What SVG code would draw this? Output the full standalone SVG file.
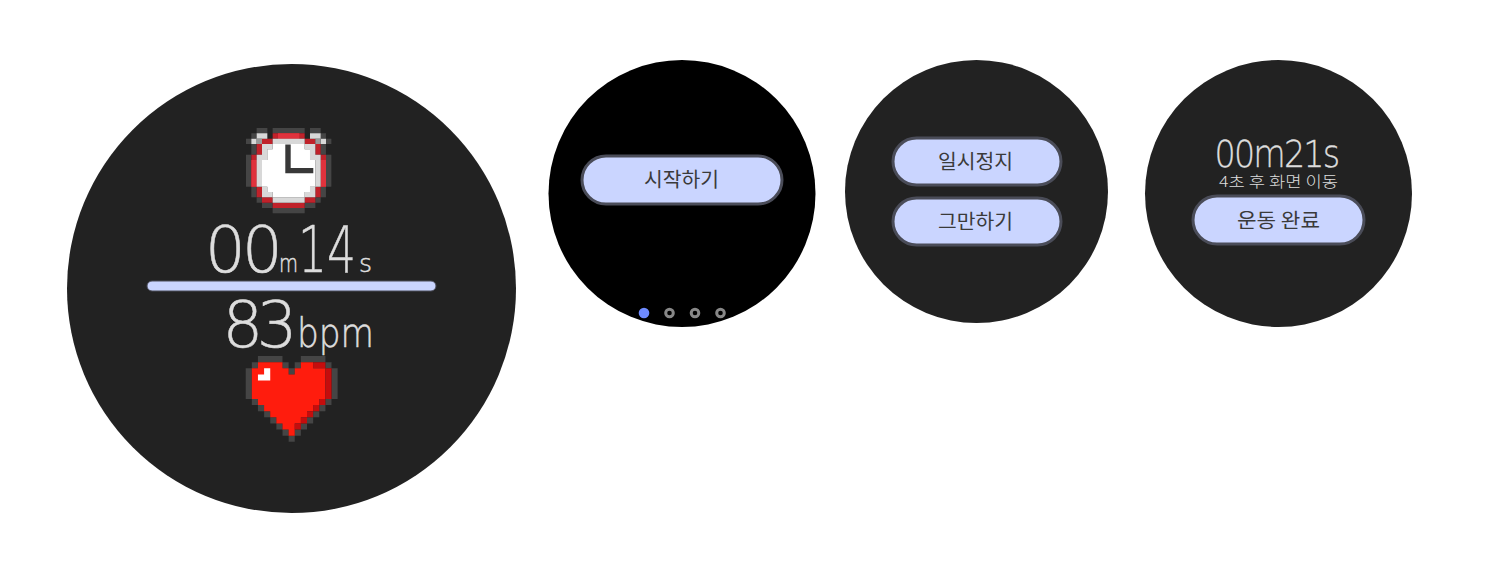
<svg xmlns="http://www.w3.org/2000/svg" width="1494" height="563" viewBox="0 0 1494 563">
<style>
.face{fill:#222}
.btn{fill:#cad5ff;stroke:#4a4c58;stroke-width:3}
.bt{font-family:"Noto Sans CJK KR","Noto Sans",sans-serif;font-size:20px;fill:#3a3a3a}
.num{font-family:"DejaVu Sans ExtraLight","DejaVu Sans",sans-serif;font-weight:200;fill:#ddd;stroke:#ddd;stroke-width:.5}
.ko{font-family:"Noto Sans CJK KR",sans-serif;font-size:15px;font-weight:200;fill:#ddd}
.ring{fill:none;stroke:#888;stroke-width:3}
</style>
<defs><filter id="soft"><feGaussianBlur stdDeviation="0.07"/></filter></defs>
<rect width="1494" height="563" fill="#fff"/>
<g id="screen-workout">
<circle class="face" cx="291.5" cy="288.5" r="224.5"/>
<g id="clock-icon" transform="translate(246 128) scale(5.333)" filter="url(#soft)">
<path fill="#444" d="M2 0h2v1h-2zM5 0h6v1h-6zM12 0h2v1h-2zM1 1h1v1h-1zM14 1h1v1h-1zM0 2h1v1h-1zM15 2h1v1h-1zM1 3h1v2h-1zM14 3h1v2h-1zM0 5h1v6h-1zM15 5h1v6h-1zM1 11h1v2h-1zM14 11h1v2h-1zM2 13h1v1h-1zM13 13h1v1h-1zM3 14h2v1h-2zM11 14h2v1h-2zM5 15h6v1h-6z"/>
<path fill="#c0202a" d="M5 1h6v1h-6zM3 2h2v1h-2zM11 2h2v1h-2zM2 3h1v2h-1zM13 3h1v2h-1zM1 5h1v6h-1zM14 5h1v6h-1zM2 11h1v2h-1zM13 11h1v2h-1zM3 13h2v1h-2zM11 13h2v1h-2zM5 14h6v1h-6z"/>
<path fill="#e0323c" d="M6 1h4v1h-4zM1 6h1v5h-1zM14 6h1v5h-1z"/>
<path fill="#d8d8d8" d="M5 2h6v1h-6zM3 3h2v1h-2zM11 3h2v1h-2zM3 4h1v1h-1zM12 4h1v1h-1zM2 5h2v1h-2zM12 5h2v1h-2zM2 6h1v5h-1zM13 6h1v5h-1zM3 11h1v1h-1zM12 11h1v1h-1zM3 12h2v1h-2zM11 12h2v1h-2zM5 13h6v1h-6zM2 1h2v1h-2zM12 1h2v1h-2zM1 2h1v1h-1zM14 2h1v1h-1z"/>
<path fill="#999" d="M2 2h1v1h-1zM13 2h1v1h-1z"/>
<path fill="#fff" d="M5 3h6v1h-6zM4 4h8v2h-8zM3 6h10v5h-10zM4 11h8v1h-8zM5 12h6v1h-6z"/>
</g>
<path fill="#383838" d="M285.3 144.5h5.4v23.5h22.6v5.3h-28z"/>
<text class="num" x="205" y="271.7" font-size="64" letter-spacing="-3.7">00</text>
<text class="num" x="279" y="272" font-size="24" textLength="19" lengthAdjust="spacingAndGlyphs">m</text>
<text class="num" x="298" y="271.7" font-size="64" textLength="58" lengthAdjust="spacingAndGlyphs">14</text>
<text class="num" x="359" y="272" font-size="24" textLength="13" lengthAdjust="spacingAndGlyphs">s</text>
<rect x="147" y="281" width="289" height="10" rx="5" fill="#cad5ff" stroke="#4a4c58" stroke-width="1"/>
<text class="num" x="222.5" y="346.5" font-size="64" letter-spacing="-6.5">83</text>
<text class="num" x="297" y="347" font-size="40" textLength="77" lengthAdjust="spacingAndGlyphs">bpm</text>
<g id="heart-icon" transform="translate(245.7 356) scale(6.13)" filter="url(#soft)">
<path fill="#444" d="M2 0h4v1h-4zM9 0h4v1h-4zM1 1h1v1h-1zM6 1h1v1h-1zM8 1h1v1h-1zM13 1h1v1h-1zM0 2h1v5h-1zM7 2h1v1h-1zM14 2h1v5h-1zM1 7h1v1h-1zM13 7h1v1h-1zM2 8h1v1h-1zM12 8h1v1h-1zM3 9h1v1h-1zM11 9h1v1h-1zM4 10h1v1h-1zM10 10h1v1h-1zM5 11h1v1h-1zM9 11h1v1h-1zM6 12h1v1h-1zM8 12h1v1h-1zM7 13h1v1h-1z"/>
<path fill="#ff1f10" d="M2 1h4v1h-4zM9 1h2v1h-2zM1 2h6v1h-6zM8 2h5v1h-5zM1 3h12v4h-12zM2 7h10v1h-10zM3 8h8v1h-8zM4 9h6v1h-6zM5 10h4v1h-4zM6 11h2v1h-2zM7 12h1v1h-1z"/>
<path fill="#c40f0a" d="M11 1h2v1h-2zM13 2h1v5h-1zM12 7h1v1h-1zM11 8h1v1h-1zM10 9h1v1h-1zM9 10h1v1h-1zM8 11h1v1h-1z"/>
<path fill="#fff" d="M3 2h1v1h-1zM2 3h2v1h-2z"/>
</g>
</g>
<g id="screen-start">
<circle fill="#000" cx="682" cy="193.5" r="133.5"/>
<rect class="btn" x="582" y="156" width="200" height="48" rx="24"/>
<text class="bt" x="644" y="187" textLength="75" lengthAdjust="spacingAndGlyphs">시작하기</text>
<circle cx="644" cy="313" r="5.3" fill="#6f8bff"/>
<circle class="ring" cx="669.5" cy="313" r="3.8"/>
<circle class="ring" cx="695" cy="313" r="3.8"/>
<circle class="ring" cx="720.5" cy="313" r="3.8"/>
</g>
<g id="screen-pause">
<circle class="face" cx="976.5" cy="191.5" r="131.5"/>
<rect class="btn" x="893" y="138" width="168" height="47" rx="23.5"/>
<text class="bt" x="938" y="169" textLength="75" lengthAdjust="spacingAndGlyphs">일시정지</text>
<rect class="btn" x="893" y="198" width="168" height="47" rx="23.5"/>
<text class="bt" x="938" y="229" textLength="75" lengthAdjust="spacingAndGlyphs">그만하기</text>
</g>
<g id="screen-done">
<circle class="face" cx="1278.5" cy="193.5" r="133.5"/>
<text class="num" transform="translate(1214.5 167) scale(.9 1)" font-size="37" letter-spacing="-2" style="stroke-width:.3">00m21s</text>
<text class="ko" x="1219" y="186.5" textLength="119" lengthAdjust="spacingAndGlyphs">4초 후 화면 이동</text>
<rect class="btn" x="1193" y="196" width="171" height="48" rx="24"/>
<text class="bt" x="1237" y="228" textLength="83" lengthAdjust="spacingAndGlyphs">운동 완료</text>
</g>
<g id="connectors"/>
</svg>
